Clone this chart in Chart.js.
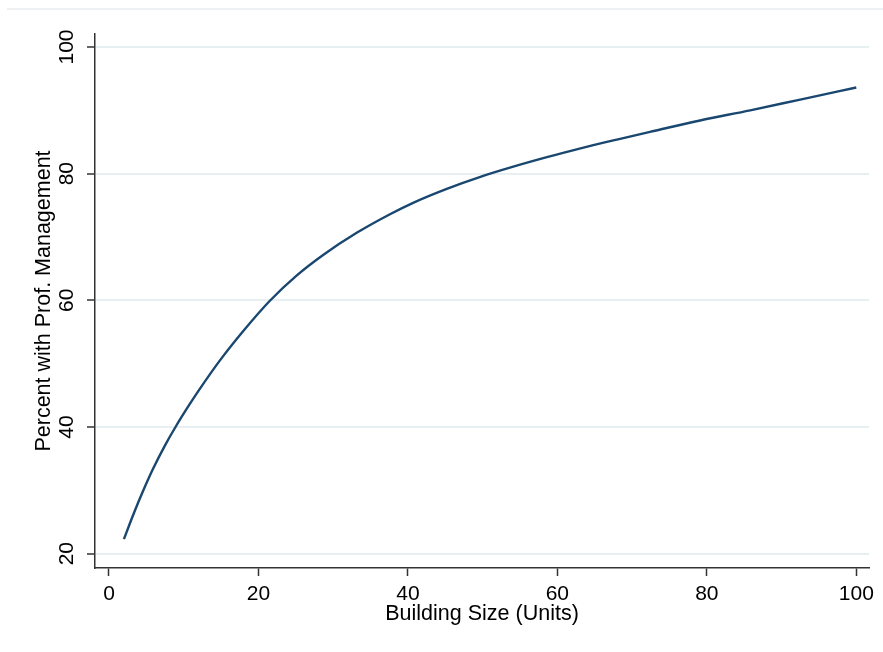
<!DOCTYPE html>
<html>
<head>
<meta charset="utf-8">
<script src="https://cdn.jsdelivr.net/npm/chart.js@4.4.1/dist/chart.umd.min.js"></script>
<style>
  body { margin: 0; background: #fff; }
  #wrap { position: relative; width: 883px; height: 652px; }
  #topline { position: absolute; left: 7px; right: 0; top: 8px; height: 2px; background: #edf1f3; }
</style>
</head>
<body>
<div id="wrap">
  <div id="topline"></div>
  <canvas id="grafico" width="883" height="652"></canvas>
</div>
<script>
// valores
var tamanho = [2, 3.3, 4.6, 5.9, 7.5, 9, 10.8, 12.2, 14.9, 18, 21.5, 25.1, 28.7, 33.2, 37.6,
               40.7, 45.2, 49.7, 54.1, 58.6, 63.1, 68.4, 72.4, 79.1, 85.8, 92.5, 100];
var percentual = [22.3, 26.3, 30.0, 33.4, 37.1, 40.2, 43.6, 46.1, 50.6, 55.2, 59.9, 63.9, 67.2, 70.7, 73.6,
                  75.4, 77.6, 79.5, 81.1, 82.6, 84.0, 85.5, 86.6, 88.4, 90.0, 91.7, 93.6];
var ticksX = [0, 20, 40, 60, 80, 100];
var ticksY = [20, 40, 60, 80, 100];

var pontos = [];
for (let i = 0; i < tamanho.length; i++) {
    pontos.push({ x: tamanho[i], y: percentual[i] });
}

var fonte = "'Liberation Sans', Arial, sans-serif";
var escuro = '#333333';

var ctx = document.getElementById('grafico');
var meuGrafico = new Chart(ctx, {
    type: 'line',
    data: {
        datasets: [{
            data: pontos,
            borderColor: '#1a476f',
            borderWidth: 2.4,
            pointRadius: 0,
            fill: false,
            cubicInterpolationMode: 'monotone'
        }]
    },
    options: {
        responsive: false,
        animation: false,
        layout: { padding: { left: 0, top: 34, right: 14, bottom: 0 } },
        plugins: { legend: { display: false }, tooltip: { enabled: false } },
        scales: {
            x: {
                type: 'linear',
                min: -1.87,
                max: 101.7,
                afterFit: function (s) { s.height = 84; },
                afterBuildTicks: function (s) { s.ticks = ticksX.map(v => ({ value: v })); },
                ticks: { color: '#000', font: { family: fonte, size: 21 }, padding: 6, maxRotation: 0 },
                grid: { drawOnChartArea: false, drawTicks: true, tickLength: 8, tickColor: escuro, tickWidth: 1.5 },
                border: { display: true, color: escuro, width: 1.5 },
                title: { display: true, text: 'Building Size (Units)', color: '#000',
                         font: { family: fonte, size: 21.5 }, padding: { top: 0, bottom: 25 } }
            },
            y: {
                min: 17.74,
                max: 102.05,
                afterFit: function (s) { s.width = 95; },
                afterBuildTicks: function (s) { s.ticks = ticksY.map(v => ({ value: v })); },
                ticks: { color: '#000', font: { family: fonte, size: 21 }, padding: 2,
                         minRotation: 90, maxRotation: 90, crossAlign: 'center' },
                grid: { color: '#e8eff2', lineWidth: 2, drawTicks: true, tickLength: 8,
                        tickColor: escuro, tickWidth: 1.5 },
                border: { display: true, color: escuro, width: 1.5 },
                title: { display: true, text: 'Percent with Prof. Management', color: '#000',
                         font: { family: fonte, size: 21.5 }, padding: { top: 31, bottom: 0 } }
            }
        }
    }
});
</script>
</body>
</html>
